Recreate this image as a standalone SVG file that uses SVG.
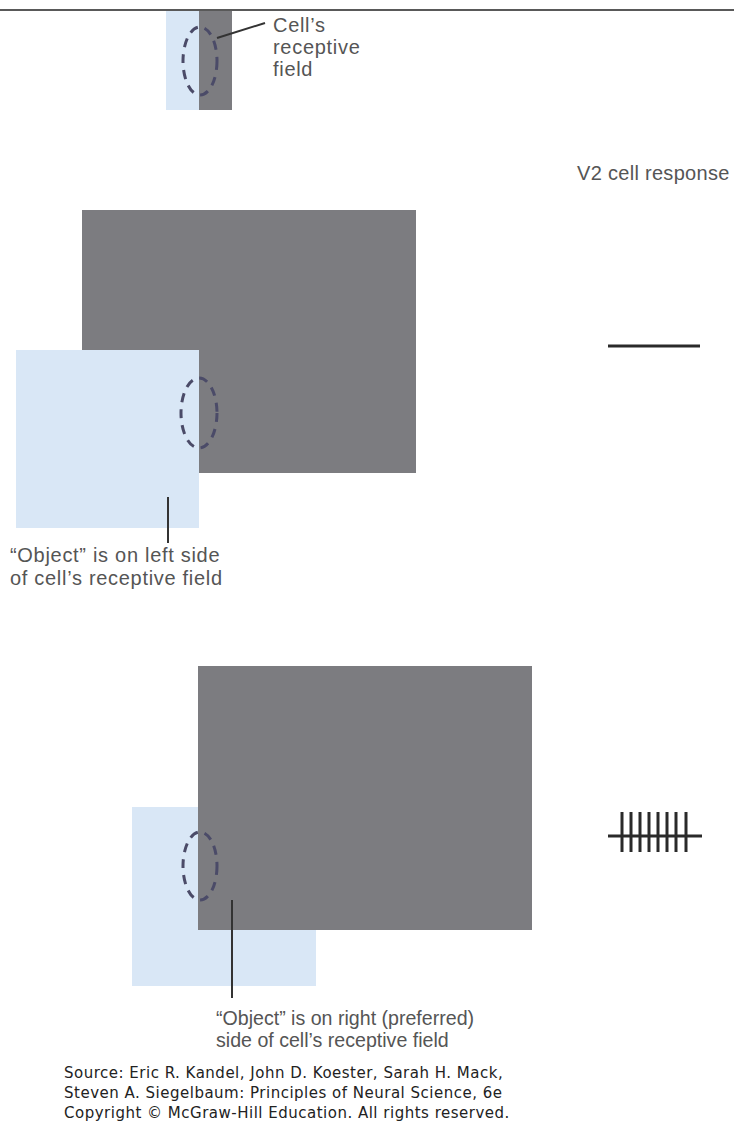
<svg xmlns="http://www.w3.org/2000/svg" width="734" height="1121" viewBox="0 0 734 1121">
<style>
.dark{fill:#7c7c80}
.light{fill:#d9e7f6}
.rf{fill:none;stroke:#4b4b68;stroke-width:3;stroke-dasharray:9,7}
.lbl{font-family:"Liberation Sans",Arial,sans-serif;font-size:20px;letter-spacing:0.7px;fill:#555}
.lead{stroke:#333;stroke-width:2;fill:none}
.src{font-family:"DejaVu Sans",Verdana,sans-serif;font-size:15px;letter-spacing:0.5px;fill:#222}
.resp{stroke:#2a2a2a;stroke-width:3;fill:none}
</style>
<rect width="734" height="1121" fill="#fff"/>
<line x1="0" y1="10" x2="734" y2="10" stroke="#222" stroke-width="1.5"/>
<g id="top-panel">
<rect class="light" x="166" y="11" width="33" height="99"/>
<rect class="dark" x="199" y="11" width="33" height="99"/>
<ellipse class="rf" cx="200" cy="61" rx="17" ry="34"/>
<text class="lbl"><tspan x="273" y="32">Cell’s</tspan><tspan x="273" y="54">receptive</tspan><tspan x="273" y="76">field</tspan></text>
</g>
<g id="response-title">
<text class="lbl" x="577" y="180" style="letter-spacing:0.3px">V2 cell response</text>
</g>
<g id="middle-panel">
<rect class="dark" x="82" y="210" width="334" height="263"/>
<rect class="light" x="16" y="350" width="183" height="178"/>
<ellipse class="rf" cx="199" cy="413" rx="18" ry="35"/>
<text class="lbl"><tspan x="10" y="562">“Object” is on left side</tspan><tspan x="10" y="585">of cell’s receptive field</tspan></text>
</g>
<g id="middle-response">
<line class="resp" x1="608" y1="346" x2="700" y2="346"/>
</g>
<g id="bottom-panel">
<rect class="light" x="132" y="807" width="184" height="179"/>
<rect class="dark" x="198" y="666" width="334" height="264"/>
<ellipse class="rf" cx="200" cy="866" rx="17" ry="34"/>
<text class="lbl" style="letter-spacing:0;font-size:19.6px"><tspan x="216" y="1025">“Object” is on right (preferred)</tspan><tspan x="216" y="1047">side of cell’s receptive field</tspan></text>
</g>
<g id="bottom-response">
<line class="resp" x1="608" y1="836" x2="702" y2="836"/>
<path class="resp" d="M622 812V852M631 812V852M640 812V852M649 812V852M658 812V852M667 812V852M676 812V852M686 812V852"/>
</g>
<g id="connectors">
<line class="lead" x1="217" y1="38" x2="265" y2="23"/>
<line class="lead" x1="168" y1="497" x2="168" y2="543"/>
<line class="lead" x1="232" y1="900" x2="232" y2="998"/>
</g>
<g id="source">
<text class="src"><tspan x="64" y="1078">Source: Eric R. Kandel, John D. Koester, Sarah H. Mack,</tspan><tspan x="64" y="1098">Steven A. Siegelbaum: Principles of Neural Science, 6e</tspan><tspan x="64" y="1118">Copyright © McGraw-Hill Education. All rights reserved.</tspan></text>
</g>
</svg>
